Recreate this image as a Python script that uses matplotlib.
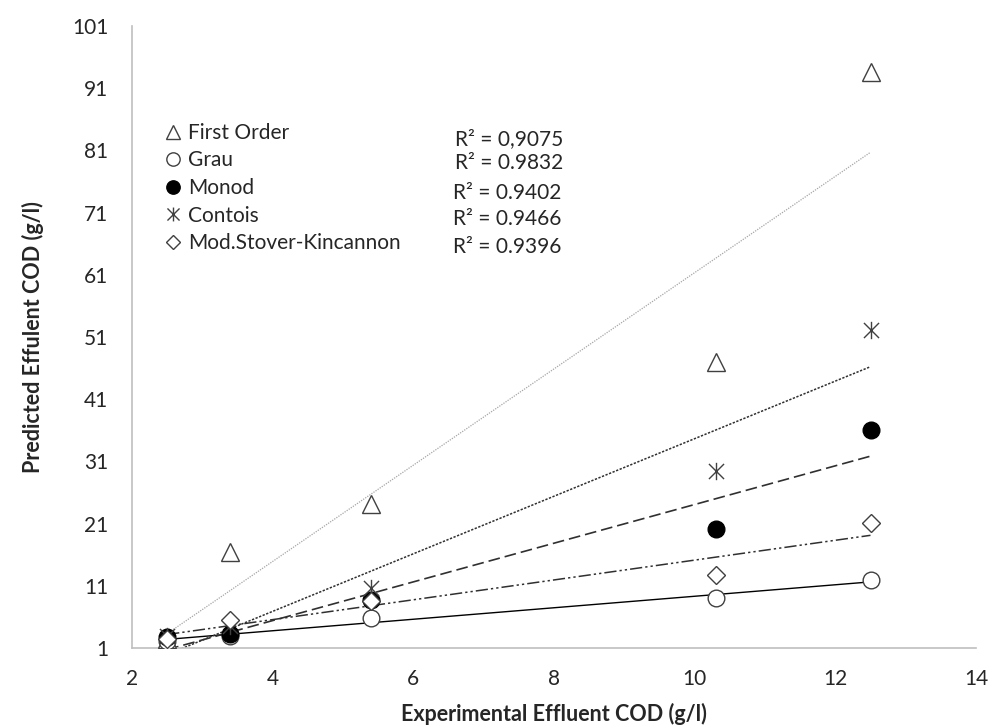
import numpy as np
import matplotlib
matplotlib.use("Agg")
import matplotlib.pyplot as plt
from matplotlib.path import Path
from matplotlib.lines import Line2D

plt.rcParams['font.family'] = ['Lato', 'DejaVu Sans']

x_exp = [2.5, 3.4, 5.4, 10.3, 12.5]
first_order = [2.5, 16.4, 24.2, 47.0, 93.6]
grau = [2.2, 3.0, 5.8, 9.0, 11.9]
monod = [2.8, 3.3, 8.7, 20.1, 36.0]
contois = [3.0, 4.5, 10.6, 29.5, 52.1]
stover = [2.5, 5.5, 8.5, 12.7, 21.1]

series_names = ["First Order", "Grau", "Monod", "Contois", "Mod.Stover-Kincannon"]
r2_labels = ["R² = 0,9075", "R² = 0.9832", "R² = 0.9402", "R² = 0.9466", "R² = 0.9396"]
x_ticks = [2, 4, 6, 8, 10, 12, 14]
y_ticks = [1, 11, 21, 31, 41, 51, 61, 71, 81, 91, 101]

star = Path([(-1, -1), (1, 1), (-1, 1), (1, -1), (0, -1.15), (0, 1.15)],
            [Path.MOVETO, Path.LINETO, Path.MOVETO, Path.LINETO, Path.MOVETO, Path.LINETO])

edge = '#404040'
styles = [
    dict(marker='^', ms=12.5, mfc='white', mec=edge, mew=1.0),
    dict(marker='o', ms=12, mfc='white', mec=edge, mew=1.0),
    dict(marker='o', ms=12, mfc='black', mec='black', mew=1.0),
    dict(marker=star, ms=12.5, mfc='none', mec=edge, mew=1.0),
    dict(marker='D', ms=9.5, mfc='white', mec=edge, mew=1.0),
]
line_styles = [
    dict(color='#a6a6a6', lw=0.9, ls=(0, (1, 1))),
    dict(color='black', lw=1.0, ls='-'),
    dict(color='#303030', lw=1.2, ls=(0, (7, 3))),
    dict(color='#303030', lw=1.1, ls=(0, (1.5, 1))),
    dict(color='#303030', lw=1.1, ls=(0, (8, 2, 1.5, 2, 1.5, 2))),
]

W, H = 992, 728
fig = plt.figure(figsize=(W / 100, H / 100), dpi=100)
ax = fig.add_axes([132 / W, 80 / H, 844 / W, 622 / H])

all_series = [first_order, grau, monod, contois, stover]
xs = np.array(x_exp)
xfit = np.array([min(x_exp), max(x_exp)])
for ys, ls in zip(all_series, line_styles):
    k, b = np.polyfit(xs, np.array(ys), 1)
    ax.plot(xfit, k * xfit + b, zorder=2, **ls)

handles = []
for ys, st, name in zip(all_series, styles, series_names):
    ax.plot(x_exp, ys, ls='none', zorder=3, **st)
    hs = dict(st)
    hs['ms'] = st['ms'] * 0.8
    handles.append(Line2D([], [], ls='none', label=name, **hs))

ax.set_xlim(2, 14)
ax.set_ylim(1, 101)
ax.set_xticks(x_ticks)
ax.set_yticks(y_ticks)
ax.tick_params(axis='x', length=0, labelsize=15, colors='#262626', pad=15)
ax.tick_params(axis='y', length=0, labelsize=15, colors='#262626', pad=17)
for s in ['top', 'right']:
    ax.spines[s].set_visible(False)
for s in ['left', 'bottom']:
    ax.spines[s].set_color('#bfbfbf')
    ax.spines[s].set_linewidth(1.2)

ax.set_xlabel("Experimental Effluent COD (g/l)", fontsize=15.5, fontweight='bold',
              color='#262626', labelpad=10)
ax.set_ylabel("Predicted Effulent COD (g/l)", fontsize=15.5, fontweight='bold',
              color='#262626', labelpad=20)

# legend, tuned so that rows sit where the reference has them
fs = 15
fs_px = fs * 100 / 72
target_first_row = 133      # px from top
target_spacing = 27.5       # px between rows
target_marker_x = 173       # px from left
target_gap = 15             # marker centre to text start
lab_sp, txt_pad = 0.2, 0.4
anchor = [0.041, 0.85]
leg = None
for _ in range(3):
    if leg is not None:
        leg.remove()
    leg = ax.legend(handles=handles, loc='upper left', bbox_to_anchor=tuple(anchor),
                    frameon=False, fontsize=fs, handlelength=0.6, handletextpad=txt_pad,
                    labelspacing=lab_sp, borderaxespad=0, borderpad=0)
    for t in leg.get_texts():
        t.set_color('#262626')
    fig.canvas.draw()
    r = fig.canvas.get_renderer()
    tb = [t.get_window_extent(r) for t in leg.get_texts()]
    hb = [h.get_window_extent(r) for h in leg.legend_handles]
    cy = [(b.y0 + b.y1) / 2 for b in tb]
    spacing = -np.mean(np.diff(cy))
    first_row = H - cy[0]
    mx = (hb[0].x0 + hb[0].x1) / 2
    gap = tb[0].x0 - mx
    lab_sp += (target_spacing - spacing) / fs_px
    txt_pad += (target_gap - gap) / fs_px
    anchor[0] += (target_marker_x - mx) / 844
    anchor[1] += (first_row - target_first_row) / 622

r2_x = [6.59, 6.59, 6.57, 6.57, 6.57]
r2_y = [82.8, 79.0, 74.2, 70.0, 65.5]
for xx, yy, lab in zip(r2_x, r2_y, r2_labels):
    ax.text(xx, yy, lab, fontsize=15, color='#262626', va='center', ha='left')

fig.savefig("out.png", dpi=100)
